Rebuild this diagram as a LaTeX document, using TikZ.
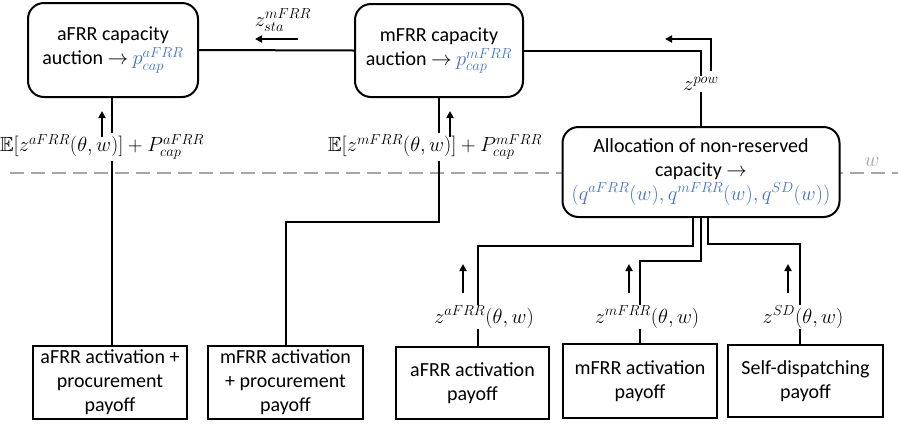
\documentclass[tikz,border=0pt]{standalone}
\usepackage{fix-cm}
\usepackage{amssymb}
\usepackage{fontspec}
\setmainfont{Carlito}
\usetikzlibrary{arrows.meta}
\definecolor{qblue}{RGB}{68,114,196}
\definecolor{dgray}{RGB}{166,166,166}
\DeclareMathSizes{20}{20.5}{14.5}{10.5}
\begin{document}
\begin{tikzpicture}[x=1pt,y=-1pt,
  every node/.style={font=\fontsize{20}{24}\selectfont},
  rbox/.style={draw,line width=2pt,rounded corners=16pt,align=center,fill=white,inner sep=0pt},
  sbox/.style={draw,line width=1.8pt,align=center,fill=white,inner sep=0pt},
  conn/.style={line width=2pt},
  uparrow/.style={line width=2pt,-{Triangle[length=7pt,width=7pt]}},
  lbl/.style={fill=white,inner sep=1pt}
]
\useasboundingbox (0,0) rectangle (898,424);
% dashed separator
\coordinate (dl) at (10,173);
\coordinate (dr) at (898,173);
\draw[dgray,line width=2pt,dash pattern=on 14pt off 7pt] (dl) -- (dr);
\node[text=dgray] (wlab) at (872,162) {$w$};

% top boxes
\node[rbox,minimum width=170pt,minimum height=94pt] (acap) at (113,50)
  {aFRR capacity\\auction $\rightarrow$ \textcolor{qblue}{$p^{aFRR}_{cap}$}};
\node[rbox,minimum width=168pt,minimum height=93pt] (mcap) at (439,50.5)
  {mFRR capacity\\auction $\rightarrow$ \textcolor{qblue}{$p^{mFRR}_{cap}$}};
\node[rbox,minimum width=277pt,minimum height=90pt] (alloc) at (701,172)
  {Allocation of non-reserved\\capacity $\rightarrow$\\\textcolor{qblue}{$(q^{aFRR}(w),q^{mFRR}(w),q^{SD}(w))$}};

% bottom boxes
\node[sbox,minimum width=154pt,minimum height=73pt] (aap) at (110,382.5)
  {aFRR activation +\\procurement\\payoff};
\node[sbox,minimum width=155pt,minimum height=73pt] (map) at (285.5,382.5)
  {mFRR activation\\+ procurement\\payoff};
\node[sbox,minimum width=153pt,minimum height=72pt] (aa) at (472.5,383)
  {aFRR activation\\payoff};
\node[sbox,minimum width=154pt,minimum height=74pt] (ma) at (640,381)
  {mFRR activation\\payoff};
\node[sbox,minimum width=155pt,minimum height=72pt] (sd) at (805.5,381)
  {Self-dispatching\\payoff};

% connectors
\draw[conn] (acap.east) -- (mcap.west);
\draw[conn] (mcap.east) -- (mcap.east -| alloc.north) -- (alloc.north);
\draw[conn] ([xshift=-1pt]acap.south) -- ([xshift=-1pt]acap.south |- aap.north);
\draw[conn] (mcap.south) |- (285.5,222) -- (map.north);
\draw[conn] ([xshift=-8pt]alloc.south) |- (478,246) -- ([xshift=5.5pt]aa.north);
\draw[conn] (alloc.south) |- (ma.north |- 0,261) -- (ma.north);
\draw[conn] ([xshift=7pt]alloc.south) |- (800,244) -- ([xshift=-5.5pt]sd.north);

% labels on lines
\node[lbl] (ea) at (102,147) {$\mathbb{E}[z^{aFRR}(\theta,w)]+P^{aFRR}_{cap}$};
\node[lbl] (em) at (435,147) {$\mathbb{E}[z^{mFRR}(\theta,w)]+P^{mFRR}_{cap}$};
\node[lbl] (zpow) at (701,84) {$z^{pow}$};
\node[lbl] (za) at (484,317) {$z^{aFRR}(\theta,w)$};
\node[lbl] (zm) at (647,317) {$z^{mFRR}(\theta,w)$};
\node[lbl] (zs) at (803,317) {$z^{SD}(\theta,w)$};
\node (zsta) at (283,20) {$z^{mFRR}_{sta}$};

% arrows
\coordinate (s1a) at (298,39); \coordinate (s1b) at (255,39);
\draw[uparrow] (s1a) -- (s1b);
\coordinate (p1) at (711,71); \coordinate (p2) at (711,39); \coordinate (p3) at (665,39);
\draw[uparrow] (p1) -- (p2) -- (p3);
\coordinate (a1) at (102,137); \coordinate (a2) at (102,111);
\draw[uparrow] (a1) -- (a2);
\coordinate (b1) at (450,137); \coordinate (b2) at (450,111);
\draw[uparrow] (b1) -- (b2);
\coordinate (c1) at (463,293); \coordinate (c2) at (463,264);
\draw[uparrow] (c1) -- (c2);
\coordinate (d1) at (629,293); \coordinate (d2) at (629,264);
\draw[uparrow] (d1) -- (d2);
\coordinate (e1) at (788,293); \coordinate (e2) at (788,264);
\draw[uparrow] (e1) -- (e2);
\end{tikzpicture}
\end{document}
